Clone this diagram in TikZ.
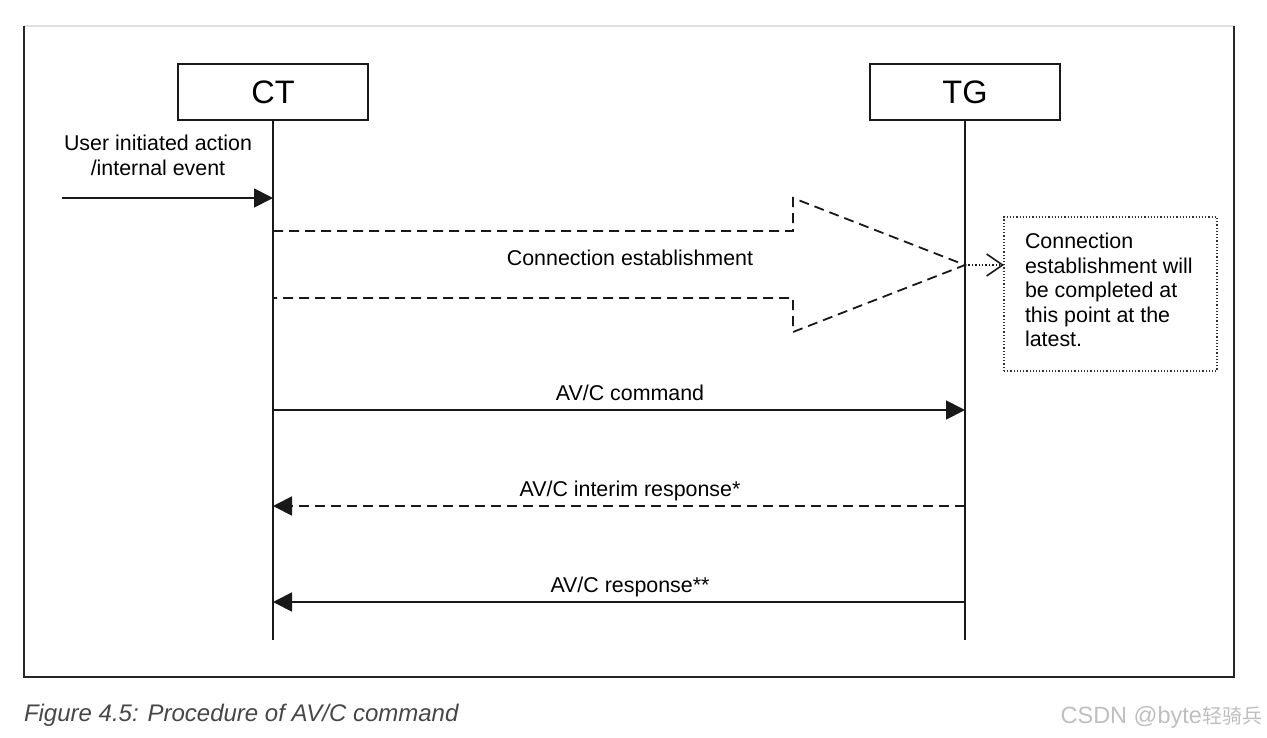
\documentclass[tikz,border=0pt]{standalone}
\usepackage{fontspec}
\setmainfont{Liberation Sans}
\newfontfamily\cjkwm{Noto Sans CJK SC}
\usetikzlibrary{arrows.meta}
\begin{document}
\begin{tikzpicture}[x=1pt,y=-1pt,
  every node/.style={inner sep=0pt, outer sep=0pt},
  entity/.style={draw=black!90, line width=1.8pt, minimum width=190pt, minimum height=56pt, font=\fontsize{32.5}{38}\selectfont},
  lifeline/.style={line width=1.6pt, black!90},
  msg/.style={line width=1.8pt, black!90, -{Triangle[length=19pt,width=19pt]}},
  lbl/.style={font=\fontsize{21.4}{24.5}\selectfont, anchor=base},
  dsh/.style={dash pattern=on 10pt off 6pt}]
\useasboundingbox (0,0) rectangle (1267,737);
% frame
\draw[line width=1.2pt, black!12] (24,26) -- (1234,26);
\draw[line width=2pt, black!85] (24,26) -- (24,677) -- (1234,677) -- (1234,26);
% entities
\node[entity] (ct) at (273,92) {CT};
\node[entity] (tg) at (965,92) {TG};
\coordinate (ctend) at (273,640);
\coordinate (tgend) at (965,640);
\draw[lifeline] (ct.south) -- (ctend);
\draw[lifeline] (tg.south) -- (tgend);
% user action
\coordinate (ustart) at (62,198);
\coordinate (uend) at (273,198);
\node[lbl, align=center, anchor=base] (ulbl) at (158,175) {User initiated action\\/internal event};
\draw[msg] (ustart) -- (uend);
% big dashed arrow
\coordinate (tip) at (965,265);
\draw[line width=1.8pt, black!90, dsh] (273,231) -- (793,231) -- (793,198) -- (tip) -- (793,332) -- (793,298) -- (273,298);
\node[lbl] (celbl) at (630,265) {Connection establishment};
% note box
\node[draw=black!80, line width=1.2pt, dotted, minimum width=213pt, minimum height=154pt, anchor=north west] (note) at (1004,217) {};
\node[font=\fontsize{21.4}{24.5}\selectfont, align=left, anchor=north west] (notetext) at (1025,233) {Connection\\establishment will\\be completed at\\this point at the\\latest.};
\draw[line width=1.4pt, black!90, dotted, -{Straight Barb[length=16pt,width=22pt,line width=1.6pt]}] (tip) -- (note.west |- tip);
% messages
\coordinate (c1) at (273,410); \coordinate (t1) at (965,410);
\coordinate (c2) at (273,506); \coordinate (t2) at (965,506);
\coordinate (c3) at (273,602); \coordinate (t3) at (965,602);
\draw[msg] (c1) -- (t1);
\node[lbl] (m1) at (630,400) {AV/C command};
\draw[msg, dsh] (t2) -- (c2);
\node[lbl] (m2) at (630,496) {AV/C interim response*};
\draw[msg] (t3) -- (c3);
\node[lbl] (m3) at (630,592) {AV/C response**};
% caption
\node[font=\fontsize{24}{28}\selectfont\itshape, text=black!72, anchor=base west] (cap) at (24,721) {Figure 4.5: Procedure of AV/C command};
\node[text=black!25, anchor=base east] (wm) at (1262,723) {\fontsize{23.5}{26}\selectfont CSDN @byte\cjkwm\fontsize{20}{24}\selectfont 轻骑兵};
\end{tikzpicture}
\end{document}
